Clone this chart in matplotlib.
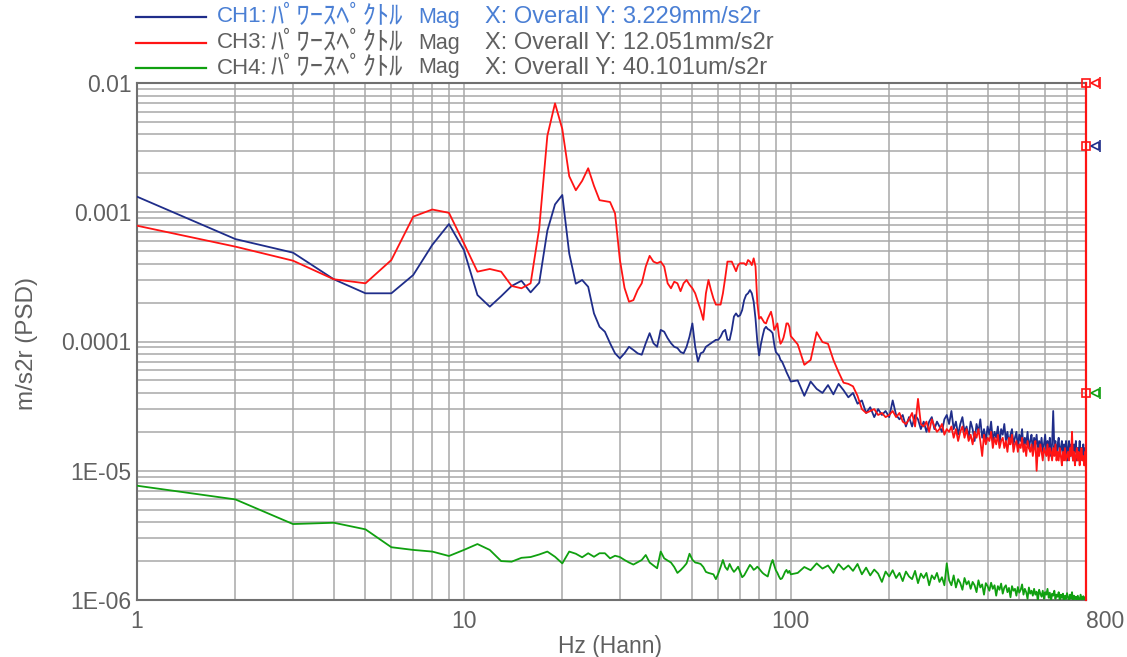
import numpy as np
import matplotlib
matplotlib.use("Agg")
import matplotlib.pyplot as plt
from matplotlib.lines import Line2D
from matplotlib.transforms import offset_copy

plt.rcParams['font.family'] = ['Liberation Sans', 'Noto Sans CJK JP', 'DejaVu Sans']

# 周波数 (Hz): 1 Hz 刻み ~100 Hz, 以降は 5 Hz 刻みで読み取り
freq_lo = np.arange(1, 101)
freq_hi = np.arange(105, 801, 5)

# 値は um/s2r 単位 (x1e-6 で m/s2r)
ch1_lo = [1320, 620, 487, 303, 236, 236, 327, 558, 810, 510,
          229, 186, 224, 269, 295, 240, 285, 720, 1150, 1360,
          480, 280, 299, 265, 165, 130, 119, 97, 81, 74,
          81, 91, 86, 81, 79, 97, 116, 97, 91, 123,
          119, 106, 97, 91, 89, 83, 81, 91, 109, 138,
          91, 70, 81, 83, 91, 94, 97, 100, 103, 103,
          109, 119, 123, 103, 103, 123, 156, 165, 156, 160,
          175, 209, 229, 236, 250, 236, 203, 150, 100, 78,
          95, 110, 125, 130, 125, 123, 120, 116, 95, 83,
          80, 78, 72, 70, 66, 62, 58, 55, 52, 49]
ch1_hi = [50, 38, 49, 43, 40, 46, 39, 47, 42, 37,
          40, 33, 35, 28, 31, 26, 30, 27, 29, 26,
          35, 27, 25, 27, 22, 26, 22, 27, 25, 21,
          24, 20, 24, 26, 21, 24, 22, 20, 25, 27,
          23, 29, 21, 24, 19, 23, 26, 20, 22, 18,
          24, 21, 17, 23, 20, 25, 18, 21, 17, 22,
          19, 24, 17, 20, 18, 22, 16, 21, 19, 23,
          17, 20, 16, 19, 21, 16, 18, 20, 15, 19,
          17, 21, 15, 18, 16, 20, 15, 17, 19, 14,
          18, 16, 19, 14, 17, 15, 18, 14, 16, 19,
          14, 17, 15, 18, 13, 16, 29, 15, 17, 13,
          16, 18, 13, 15, 17, 13, 16, 14, 17, 12,
          15, 17, 13, 16, 14, 12, 16, 14, 17, 12,
          15, 13, 17, 12, 15, 13, 16, 12, 15, 13]

ch3_lo = [787, 542, 422, 303, 282, 427, 925, 1050, 990, 575,
          347, 364, 347, 269, 258, 282, 750, 3900, 6960, 4400,
          1900, 1480, 1750, 2190, 1600, 1240, 1220, 1200, 980, 430,
          260, 203, 209, 250, 282, 380, 460, 415, 403, 415,
          380, 282, 258, 290, 282, 245, 282, 299, 275, 258,
          236, 203, 175, 147, 236, 299, 250, 215, 193, 193,
          193, 236, 310, 415, 415, 415, 380, 350, 390, 403,
          403, 403, 390, 427, 415, 390, 440, 380, 200, 150,
          155, 147, 140, 138, 150, 160, 170, 150, 123, 130,
          138, 110, 96, 100, 107, 120, 138, 138, 130, 110]
ch3_hi = [95, 66, 72, 118, 99, 96, 72, 58, 48, 47,
          45, 38, 30, 28, 29, 30, 27, 28, 26, 27,
          29, 26, 28, 24, 23, 25, 28, 22, 36, 23,
          22, 24, 20, 25, 22, 20, 21, 23, 19, 21,
          20, 22, 18, 21, 17, 20, 22, 18, 21, 17,
          19, 16, 20, 18, 21, 17, 13, 19, 16, 18,
          17, 20, 15, 18, 16, 19, 15, 17, 18, 15,
          17, 14, 18, 16, 19, 14, 16, 17, 14, 16,
          15, 18, 14, 16, 13, 17, 15, 14, 16, 13,
          15, 17, 10, 15, 13, 16, 14, 12, 15, 14,
          13, 16, 12, 15, 14, 12, 15, 13, 16, 12,
          14, 12, 15, 13, 11, 14, 12, 15, 12, 13,
          14, 12, 15, 13, 20, 12, 14, 11, 13, 15,
          12, 14, 11, 13, 15, 12, 13, 11, 14, 10]

ch4_lo = [7.66, 6.0, 3.87, 3.96, 3.52, 2.56, 2.44, 2.37, 2.19, 2.44,
          2.71, 2.44, 2.00, 1.98, 2.12, 2.15, 2.25, 2.37, 2.16, 1.92,
          2.37, 2.28, 2.14, 2.30, 2.16, 2.30, 2.30, 2.10, 2.20, 2.15,
          2.04, 1.95, 1.88, 1.96, 2.04, 2.23, 1.95, 1.85, 1.76, 2.37,
          2.10, 2.02, 1.95, 1.80, 1.62, 1.70, 1.80, 1.92, 2.28, 2.05,
          1.95, 1.93, 1.90, 1.80, 1.65, 1.62, 1.60, 1.58, 1.45, 1.60,
          1.80, 2.04, 1.80, 1.71, 1.90, 1.75, 1.65, 1.72, 1.81, 1.65,
          1.50, 1.55, 1.65, 1.75, 1.87, 1.80, 1.71, 1.75, 1.81, 1.75,
          1.68, 1.62, 1.58, 1.55, 1.52, 1.70, 1.90, 2.04, 1.85, 1.70,
          1.62, 1.52, 1.45, 1.47, 1.55, 1.65, 1.71, 1.62, 1.68, 1.58]
ch4_hi = [1.62, 1.80, 1.70, 1.92, 1.75, 1.85, 1.62, 1.90, 1.72, 1.85,
          1.68, 1.90, 1.58, 1.78, 1.55, 1.72, 1.60, 1.38, 1.66, 1.52,
          1.70, 1.48, 1.62, 1.40, 1.66, 1.52, 1.45, 1.68, 1.35, 1.60,
          1.48, 1.62, 1.30, 1.55, 1.45, 1.62, 1.38, 1.50, 1.30, 1.92,
          1.42, 1.30, 1.55, 1.25, 1.45, 1.35, 1.20, 1.48, 1.32, 1.40,
          1.22, 1.38, 1.30, 1.15, 1.42, 1.25, 1.32, 1.10, 1.35, 1.28,
          1.18, 1.36, 1.22, 1.30, 1.08, 1.28, 1.20, 1.34, 1.12, 1.25,
          1.30, 1.15, 1.24, 1.05, 1.28, 1.18, 1.22, 1.08, 1.26, 1.14,
          1.20, 1.32, 1.10, 1.22, 1.15, 1.02, 1.25, 1.12, 1.18, 1.08,
          1.22, 1.10, 1.16, 0.98, 1.20, 1.12, 1.06, 1.18, 1.02, 1.15,
          1.10, 1.22, 1.04, 1.14, 0.97, 1.12, 1.08, 1.18, 1.02, 1.10,
          1.06, 1.15, 0.98, 1.10, 1.04, 1.12, 0.96, 1.08, 1.02, 1.13,
          1.05, 0.98, 1.10, 1.03, 1.15, 0.97, 1.08, 1.02, 1.06, 0.99,
          1.08, 1.02, 0.97, 1.10, 1.04, 0.98, 1.07, 1.01, 1.05, 0.98]

channels = ['CH1', 'CH3', 'CH4']
overall_text = ['3.229mm/s2r', '12.051mm/s2r', '40.101um/s2r']
overall_val = [3.229e-3, 12.051e-3, 40.101e-6]
colors = ['#1f2d8a', '#ff1414', '#10a010']
x_ticks = [1, 10, 100, 800]
y_ticks = [1e-6, 1e-5, 1e-4, 1e-3, 1e-2]
y_labels = ['1E-06', '1E-05', '0.0001', '0.001', '0.01']

W, H = 1127, 657
TXT = '#606060'
FS = 16.5

freq = np.concatenate([freq_lo, freq_hi])
series = [np.array(ch1_lo + ch1_hi) * 1e-6,
          np.array(ch3_lo + ch3_hi) * 1e-6,
          np.array(ch4_lo + ch4_hi) * 1e-6]

fig = plt.figure(figsize=(W / 100, H / 100), dpi=100)
ax = fig.add_axes([137 / W, 57 / H, 949 / W, 517 / H])

for vals, c in zip(series, colors):
    ax.plot(freq, vals, color=c, lw=1.3, zorder=3)

ax.set_xscale('log')
ax.set_yscale('log')
ax.set_xlim(1, 800)
ax.set_ylim(1e-6, 1e-2)

ax.grid(True, which='both', color='#a8a8a8', lw=1.1, zorder=0)
ax.set_xticks(x_ticks)
ax.set_xticklabels([str(v) for v in x_ticks])
ax.set_yticks(y_ticks)
ax.set_yticklabels(y_labels)
ax.tick_params(which='both', length=0, labelsize=FS, labelcolor=TXT)
ax.tick_params(axis='x', pad=7)
ax.tick_params(axis='y', pad=4)
ax.get_xticklabels()[-1].set_horizontalalignment('left')

for s in ['left', 'bottom', 'top']:
    ax.spines[s].set_color('#707070')
    ax.spines[s].set_linewidth(1.5)
ax.spines['right'].set_visible(False)
ax.axvline(800, color='#ff1414', lw=1.6, zorder=4, clip_on=False)

# カーソル位置のオーバーオール値マーカー
tr_tri = offset_copy(ax.transData, fig=fig, x=9, y=0, units='dots')
tr_bar = offset_copy(ax.transData, fig=fig, x=14, y=0, units='dots')
for v, c in zip(overall_val, colors):
    yv = min(v, 1e-2)
    ax.plot(800, yv, 's', ms=6, mfc='none', mec='#ff1414', mew=1.2,
            clip_on=False, zorder=5)
    ax.plot(800, yv, '<', ms=6, mfc='none', mec=c, mew=1.2,
            transform=tr_tri, clip_on=False, zorder=5)
    ax.plot(800, yv, '|', ms=8, mec=c, mew=1.2,
            transform=tr_bar, clip_on=False, zorder=5)

fig.text(610 / W, 1 - 646 / H, 'Hz (Hann)', ha='center', va='center',
         fontsize=FS, color=TXT)
fig.text(27 / W, 1 - 343 / H, 'm/s2r (PSD)', ha='center', va='center',
         rotation=90, fontsize=17.5, color=TXT)

# 凡例
row_y = [17, 43, 68]
for i, ch in enumerate(channels):
    yy = 1 - row_y[i] / H
    fig.add_artist(Line2D([136 / W, 206 / W], [yy, yy], color=colors[i],
                          lw=1.6, transform=fig.transFigure))
    tc = '#4a7fd4' if i == 0 else TXT
    fig.text(217 / W, yy, f'{ch}:', ha='left', va='center',
             fontsize=16, color=tc)
    fig.text(271 / W, yy, 'ﾊﾟﾜｰｽﾍﾟｸﾄﾙ', ha='left', va='center',
             fontsize=19, color=tc)
    fig.text(418 / W, yy, 'Mag', ha='left', va='center',
             fontsize=15.5, color=tc)
    fig.text(485 / W, yy, f'X: Overall Y: {overall_text[i]}', ha='left',
             va='center', fontsize=17, color=tc)

fig.savefig('out.png', dpi=100)
